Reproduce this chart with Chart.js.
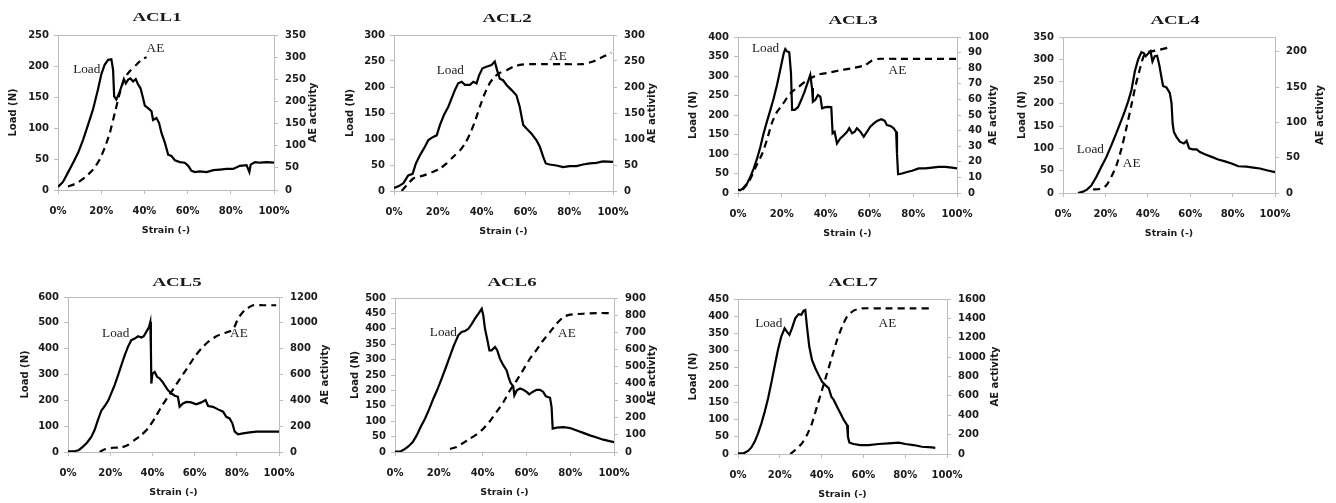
<!DOCTYPE html>
<html>
<head>
<meta charset="utf-8">
<script src="https://cdn.jsdelivr.net/npm/chart.js@4/dist/chart.umd.min.js"></script>
<style>
html, body { margin: 0; padding: 0; background: #fff; }
#wrap { position: relative; width: 1336px; height: 503px; overflow: hidden; }
#wrap canvas { position: absolute; }
</style>
</head>
<body>
<div id="wrap"></div>
<script>
'use strict';

// ---- data (strain as fraction, load in N, AE counts) ----
var acl1Strain = [0, 0.023, 0.046, 0.07, 0.093, 0.116, 0.139, 0.162, 0.185, 0.20, 0.216, 0.232, 0.247, 0.255, 0.26, 0.27, 0.283, 0.294, 0.305, 0.314, 0.325, 0.335, 0.348, 0.36, 0.371, 0.382, 0.394, 0.402, 0.417, 0.433, 0.44, 0.456, 0.468, 0.479, 0.495, 0.51, 0.525, 0.541, 0.564, 0.587, 0.603, 0.618, 0.634, 0.657, 0.688, 0.719, 0.75, 0.78, 0.811, 0.842, 0.873, 0.886, 0.892, 0.912, 0.935, 0.966, 1.0];
var acl1Load = [5, 13, 28, 44, 60, 81, 105, 130, 162, 186, 202, 210, 211, 194, 151, 146, 156, 167, 179, 172, 178, 180, 175, 179, 170, 164, 148, 136, 132, 127, 113, 116, 108, 92, 76, 57, 55, 48, 45, 44, 39, 31, 29, 30, 29, 32, 33, 34, 34, 39, 40, 29, 41, 45, 44, 45, 44];
var acl1AeStrain = [0.046, 0.085, 0.124, 0.162, 0.193, 0.216, 0.24, 0.263, 0.286, 0.309, 0.332, 0.363, 0.386, 0.41];
var acl1Ae = [8, 15, 28, 46, 69, 95, 129, 174, 219, 253, 268, 283, 294, 300];

var acl2Strain = [0, 0.02, 0.043, 0.065, 0.085, 0.1, 0.119, 0.141, 0.157, 0.179, 0.195, 0.21, 0.228, 0.248, 0.263, 0.278, 0.293, 0.309, 0.324, 0.347, 0.362, 0.377, 0.389, 0.404, 0.422, 0.445, 0.46, 0.471, 0.483, 0.498, 0.514, 0.537, 0.559, 0.574, 0.59, 0.605, 0.628, 0.65, 0.666, 0.681, 0.693, 0.711, 0.742, 0.772, 0.802, 0.833, 0.863, 0.894, 0.924, 0.954, 1.0];
var acl2Load = [6, 9, 15, 30, 33, 53, 69, 85, 98, 104, 107, 127, 146, 162, 178, 194, 207, 210, 204, 204, 210, 207, 223, 236, 239, 242, 249, 232, 216, 213, 204, 194, 184, 162, 127, 120, 110, 98, 85, 66, 53, 51, 49, 46, 48, 48, 51, 53, 54, 57, 56];
var acl2AeStrain = [0.035, 0.058, 0.088, 0.119, 0.149, 0.179, 0.21, 0.24, 0.271, 0.301, 0.324, 0.347, 0.369, 0.392, 0.415, 0.438, 0.46, 0.483, 0.514, 0.544, 0.582, 0.62, 0.696, 0.772, 0.863, 0.909, 0.954, 0.992];
var acl2Ae = [0, 11, 24, 28, 32, 37, 43, 53, 66, 78, 91, 110, 133, 162, 188, 208, 220, 227, 232, 239, 243, 244, 244, 244, 244, 249, 258, 266];

var acl3Strain = [0, 0.011, 0.026, 0.041, 0.056, 0.072, 0.087, 0.102, 0.117, 0.132, 0.148, 0.163, 0.178, 0.193, 0.209, 0.216, 0.224, 0.234, 0.242, 0.247, 0.259, 0.274, 0.289, 0.304, 0.32, 0.33, 0.338, 0.342, 0.353, 0.365, 0.376, 0.384, 0.399, 0.414, 0.426, 0.432, 0.441, 0.452, 0.467, 0.483, 0.498, 0.508, 0.521, 0.533, 0.543, 0.559, 0.574, 0.589, 0.604, 0.619, 0.635, 0.654, 0.67, 0.68, 0.696, 0.711, 0.722, 0.726, 0.731, 0.749, 0.772, 0.795, 0.825, 0.855, 0.886, 0.916, 0.947, 0.977, 1.0];
var acl3Load = [9, 7, 14, 24, 41, 63, 88, 118, 153, 183, 213, 243, 277, 316, 359, 369, 363, 361, 307, 213, 213, 220, 239, 260, 286, 303, 269, 234, 239, 251, 247, 217, 220, 221, 220, 153, 157, 127, 140, 148, 157, 166, 153, 157, 166, 157, 144, 157, 170, 178, 185, 189, 185, 174, 172, 166, 157, 101, 48, 50, 54, 57, 63, 63, 65, 67, 67, 65, 63];
var acl3AeStrain = [0.02, 0.049, 0.079, 0.11, 0.132, 0.155, 0.178, 0.2, 0.224, 0.247, 0.277, 0.307, 0.338, 0.368, 0.414, 0.46, 0.521, 0.581, 0.612, 0.642, 0.734, 0.886, 1.0];
var acl3Ae = [2, 7, 16, 25, 34, 45, 52, 56, 61, 65, 68, 71.5, 74, 76, 77, 78.5, 80, 82, 85, 86, 86, 86, 86];

var acl4Strain = [0.071, 0.094, 0.113, 0.134, 0.157, 0.181, 0.205, 0.228, 0.252, 0.276, 0.291, 0.307, 0.323, 0.339, 0.354, 0.37, 0.381, 0.39, 0.402, 0.413, 0.422, 0.433, 0.444, 0.454, 0.465, 0.472, 0.488, 0.504, 0.512, 0.517, 0.523, 0.535, 0.551, 0.57, 0.583, 0.595, 0.611, 0.63, 0.646, 0.669, 0.701, 0.732, 0.764, 0.795, 0.827, 0.866, 0.898, 0.929, 0.961, 1.0];
var acl4Load = [0, 3, 7.5, 17, 36, 59, 81, 107, 135, 164, 183, 205, 231, 273, 299, 316, 314, 307, 313, 318, 295, 307, 308, 288, 258, 240, 237, 224, 201, 156, 137, 126, 115, 111, 117, 100, 98, 98, 92, 87, 81, 75, 71, 66, 60, 59, 57, 55, 51, 47];
var acl4AeStrain = [0.142, 0.181, 0.205, 0.228, 0.252, 0.276, 0.299, 0.323, 0.343, 0.362, 0.381, 0.402, 0.425, 0.457, 0.496];
var acl4Ae = [5, 6, 11, 23, 39, 63, 92, 125, 153, 175, 194, 200, 201, 203, 206];

var acl5Strain = [0, 0.032, 0.052, 0.071, 0.09, 0.111, 0.126, 0.142, 0.158, 0.174, 0.19, 0.205, 0.221, 0.237, 0.253, 0.269, 0.284, 0.3, 0.316, 0.332, 0.348, 0.359, 0.371, 0.384, 0.39, 0.393, 0.395, 0.4, 0.411, 0.422, 0.434, 0.447, 0.458, 0.474, 0.49, 0.506, 0.521, 0.529, 0.545, 0.561, 0.584, 0.608, 0.632, 0.652, 0.664, 0.687, 0.711, 0.735, 0.75, 0.766, 0.779, 0.79, 0.806, 0.829, 0.861, 0.893, 0.924, 0.956, 1.0];
var acl5Load = [3, 3, 8, 21, 36, 59, 85, 124, 160, 178, 198, 227, 259, 297, 336, 375, 407, 433, 439, 448, 443, 448, 465, 484, 503, 394, 265, 303, 310, 291, 285, 272, 259, 239, 227, 218, 214, 175, 188, 194, 192, 185, 192, 201, 178, 175, 165, 156, 136, 130, 111, 79, 68, 72, 76, 79, 79, 79, 79];
var acl5AeStrain = [0.15, 0.174, 0.213, 0.253, 0.284, 0.316, 0.348, 0.379, 0.411, 0.442, 0.474, 0.506, 0.537, 0.569, 0.6, 0.632, 0.664, 0.703, 0.743, 0.782, 0.806, 0.837, 0.877, 0.924, 0.987];
var acl5Ae = [0, 21, 33, 36, 54, 93, 131, 183, 260, 350, 427, 505, 582, 659, 737, 801, 852, 896, 922, 948, 1033, 1097, 1136, 1136, 1136];

var acl6Strain = [0, 0.023, 0.041, 0.061, 0.081, 0.099, 0.117, 0.137, 0.157, 0.175, 0.193, 0.213, 0.233, 0.251, 0.269, 0.289, 0.304, 0.32, 0.335, 0.35, 0.365, 0.381, 0.396, 0.403, 0.411, 0.422, 0.431, 0.441, 0.457, 0.467, 0.479, 0.495, 0.51, 0.518, 0.528, 0.54, 0.545, 0.556, 0.571, 0.586, 0.601, 0.613, 0.628, 0.647, 0.662, 0.677, 0.689, 0.708, 0.715, 0.72, 0.738, 0.769, 0.799, 0.83, 0.86, 0.89, 0.921, 0.951, 1.0];
var acl6Load = [1, 1, 8, 18, 32, 54, 81, 108, 141, 173, 202, 238, 276, 311, 346, 379, 390, 393, 400, 415, 433, 449, 465, 444, 400, 363, 330, 330, 341, 330, 303, 281, 265, 244, 224, 213, 184, 200, 206, 202, 195, 187, 195, 202, 202, 195, 181, 176, 146, 76, 79, 81, 78, 70, 62, 54, 47, 40, 32];
var acl6AeStrain = [0.251, 0.282, 0.312, 0.342, 0.373, 0.403, 0.434, 0.464, 0.495, 0.525, 0.556, 0.586, 0.616, 0.647, 0.677, 0.708, 0.738, 0.769, 0.799, 0.86, 0.921, 0.997];
var acl6Ae = [18, 29, 53, 78, 103, 136, 181, 234, 292, 360, 419, 481, 545, 598, 653, 701, 750, 789, 803, 808, 812, 812];

var acl7Strain = [0, 0.027, 0.048, 0.064, 0.08, 0.096, 0.112, 0.128, 0.144, 0.159, 0.175, 0.191, 0.207, 0.223, 0.234, 0.246, 0.258, 0.274, 0.29, 0.303, 0.314, 0.322, 0.33, 0.341, 0.354, 0.37, 0.386, 0.402, 0.418, 0.434, 0.447, 0.458, 0.474, 0.49, 0.506, 0.522, 0.526, 0.533, 0.553, 0.585, 0.625, 0.673, 0.721, 0.769, 0.801, 0.84, 0.88, 0.928, 0.944];
var acl7Load = [2, 2, 9, 19, 36, 60, 89, 123, 162, 205, 254, 302, 341, 365, 355, 346, 365, 394, 406, 404, 416, 418, 370, 312, 273, 249, 229, 210, 200, 191, 166, 157, 137, 118, 99, 84, 50, 33, 29, 26, 26, 29, 31, 33, 29, 26, 21, 19, 18];
var acl7AeStrain = [0.25, 0.274, 0.306, 0.33, 0.354, 0.378, 0.402, 0.426, 0.45, 0.474, 0.498, 0.522, 0.553, 0.593, 0.689, 0.848, 0.92];
var acl7Ae = [0, 41, 110, 196, 317, 489, 661, 833, 1005, 1177, 1315, 1418, 1480, 1503, 1503, 1503, 1503];

var panelNames = ['ACL1', 'ACL2', 'ACL3', 'ACL4', 'ACL5', 'ACL6', 'ACL7'];
var loadMax = [250, 300, 400, 350, 600, 500, 450];
var loadStep = [50, 50, 50, 50, 100, 50, 50];
var aeMax = [350, 300, 100, 221, 1200, 900, 1600];
var aeStep = [50, 50, 10, 50, 200, 100, 200];
var strainTicks = [0, 0.2, 0.4, 0.6, 0.8, 1.0];

var series = [
  [acl1Strain, acl1Load, acl1AeStrain, acl1Ae],
  [acl2Strain, acl2Load, acl2AeStrain, acl2Ae],
  [acl3Strain, acl3Load, acl3AeStrain, acl3Ae],
  [acl4Strain, acl4Load, acl4AeStrain, acl4Ae],
  [acl5Strain, acl5Load, acl5AeStrain, acl5Ae],
  [acl6Strain, acl6Load, acl6AeStrain, acl6Ae],
  [acl7Strain, acl7Load, acl7AeStrain, acl7Ae]
];

// ---- layout: canvas box, axis sizes [left, right, top, bottom], text spots ----
var panels = [
  {left: 0, top: 0, width: 330, height: 250, area: [58, 56, 35, 60], titleX: 157, titleY: 18, loadDx: 45, aeDx: 39, loadLabel: [0.133, 193], aeLabel: [0.451, 318]},
  {left: 330, top: 0, width: 335, height: 250, area: [64, 52, 35, 59], titleX: 177, titleY: 19, loadDx: 44, aeDx: 39, loadLabel: [0.257, 231], aeLabel: [0.749, 257]},
  {left: 665, top: 0, width: 335, height: 250, area: [73, 43, 37, 57], titleX: 188, titleY: 21, loadDx: 45, aeDx: 36, loadLabel: [0.126, 369], aeLabel: [0.728, 78]},
  {left: 1000, top: 0, width: 336, height: 250, area: [63, 61, 37, 57], titleX: 175, titleY: 21, loadDx: 41, aeDx: 45, loadLabel: [0.129, 97], aeLabel: [0.324, 41]},
  {left: 0, top: 250, width: 330, height: 253, area: [68, 51, 47, 51], titleX: 177, titleY: 33, loadDx: 43, aeDx: 46, loadLabel: [0.226, 458], aeLabel: [0.81, 917]},
  {left: 330, top: 250, width: 335, height: 253, area: [65, 51, 48, 51], titleX: 182, titleY: 33, loadDx: 40, aeDx: 38, loadLabel: [0.221, 385], aeLabel: [0.785, 692]},
  {left: 665, top: 250, width: 335, height: 253, area: [73, 53, 49, 49], titleX: 188, titleY: 33, loadDx: 45, aeDx: 48, loadLabel: [0.147, 377], aeLabel: [0.715, 1342]}
];

var AXIS = '#bdbdbd';
var INK = '#1a1a1a';
var TICK_FONT = {family: '"DejaVu Sans"', size: 10, weight: 'bold'};

function toPoints(xs, ys) {
  var pts = [];
  for (var i = 0; i < xs.length; i++) {
    pts.push({x: xs[i], y: ys[i]});
  }
  return pts;
}

function drawText(ctx, text, x, y, font, stretch, rot) {
  ctx.save();
  ctx.translate(x, y);
  if (rot) ctx.rotate(rot);
  ctx.scale(stretch, 1);
  ctx.font = font;
  ctx.fillStyle = INK;
  ctx.textAlign = 'center';
  ctx.textBaseline = 'middle';
  ctx.fillText(text, 0, 0);
  ctx.restore();
}

function makeDecorations(p, name) {
  return {
    id: 'decorations',
    beforeDatasetsDraw: function(chart) {
      var a = chart.chartArea;
      var ctx = chart.ctx;
      ctx.save();
      ctx.strokeStyle = AXIS;
      ctx.lineWidth = 1;
      ctx.beginPath();
      ctx.moveTo(a.left, a.top + 0.5);
      ctx.lineTo(a.right, a.top + 0.5);
      ctx.stroke();
      ctx.restore();
    },
    afterDraw: function(chart) {
      var a = chart.chartArea;
      var ctx = chart.ctx;
      var midY = (a.top + a.bottom) / 2;
      drawText(ctx, name, p.titleX, p.titleY, 'bold 13px "Liberation Serif"', 1.45, 0);
      drawText(ctx, 'Load (N)', a.left - p.loadDx, midY, 'bold 10px "DejaVu Sans"', 1, -Math.PI / 2);
      drawText(ctx, 'AE activity', a.right + p.aeDx, midY, 'bold 10px "DejaVu Sans"', 1, -Math.PI / 2);
      drawText(ctx, 'Strain (-)', (a.left + a.right) / 2, a.bottom + 41, 'bold 9.5px "DejaVu Sans"', 1, 0);
      var sx = chart.scales.x, sy = chart.scales.y, sy1 = chart.scales.y1;
      drawText(ctx, 'Load', sx.getPixelForValue(p.loadLabel[0]), sy.getPixelForValue(p.loadLabel[1]), '11.5px "Liberation Serif"', 1.15, 0);
      drawText(ctx, 'AE', sx.getPixelForValue(p.aeLabel[0]), sy1.getPixelForValue(p.aeLabel[1]), '11.5px "Liberation Serif"', 1.15, 0);
    }
  };
}

function keepSteps(step) {
  return function(scale) {
    scale.ticks = scale.ticks.filter(function(t) {
      var r = t.value / step;
      return Math.abs(r - Math.round(r)) < 1e-6;
    });
  };
}

function plainNumber(v) {
  return String(Math.round(v));
}

var wrap = document.getElementById('wrap');

for (var i = 0; i < panels.length; i++) {
  (function(i) {
    var p = panels[i];
    var s = series[i];
    var canvas = document.createElement('canvas');
    canvas.width = p.width;
    canvas.height = p.height;
    canvas.style.left = p.left + 'px';
    canvas.style.top = p.top + 'px';
    canvas.style.width = p.width + 'px';
    canvas.style.height = p.height + 'px';
    wrap.appendChild(canvas);

    new Chart(canvas, {
      type: 'line',
      data: {
        datasets: [{
          label: 'Load',
          data: toPoints(s[0], s[1]),
          yAxisID: 'y',
          borderColor: '#000',
          borderWidth: 2.2,
          pointRadius: 0,
          tension: 0
        }, {
          label: 'AE',
          data: toPoints(s[2], s[3]),
          yAxisID: 'y1',
          borderColor: '#000',
          borderWidth: 2.2,
          borderDash: [7, 5],
          pointRadius: 0,
          tension: 0.2
        }]
      },
      options: {
        responsive: false,
        animation: false,
        devicePixelRatio: 1,
        layout: {padding: {top: p.area[2], left: 0, right: 0, bottom: 0}},
        plugins: {legend: {display: false}, tooltip: {enabled: false}, title: {display: false}},
        scales: {
          x: {
            type: 'linear',
            min: 0,
            max: 1,
            afterBuildTicks: function(scale) {
              scale.ticks = strainTicks.map(function(v) { return {value: v}; });
            },
            ticks: {
              font: TICK_FONT,
              color: INK,
              padding: 11,
              maxRotation: 0,
              autoSkip: false,
              callback: function(v) { return Math.round(v * 100) + '%'; }
            },
            grid: {drawOnChartArea: false, color: AXIS, tickLength: 4},
            border: {color: AXIS},
            afterFit: function(scale) { scale.height = p.area[3]; }
          },
          y: {
            position: 'left',
            min: 0,
            max: loadMax[i],
            afterBuildTicks: keepSteps(loadStep[i]),
            ticks: {stepSize: loadStep[i], font: TICK_FONT, color: INK, padding: 5, autoSkip: false, callback: plainNumber},
            grid: {drawOnChartArea: false, color: AXIS, tickLength: 4},
            border: {color: AXIS},
            afterFit: function(scale) { scale.width = p.area[0]; }
          },
          y1: {
            position: 'right',
            min: 0,
            max: aeMax[i],
            afterBuildTicks: keepSteps(aeStep[i]),
            ticks: {stepSize: aeStep[i], font: TICK_FONT, color: INK, padding: 7, autoSkip: false, callback: plainNumber},
            grid: {drawOnChartArea: false, color: AXIS, tickLength: 4},
            border: {color: AXIS},
            afterFit: function(scale) { scale.width = p.area[1]; }
          }
        }
      },
      plugins: [makeDecorations(p, panelNames[i])]
    });
  })(i);
}
</script>
</body>
</html>
